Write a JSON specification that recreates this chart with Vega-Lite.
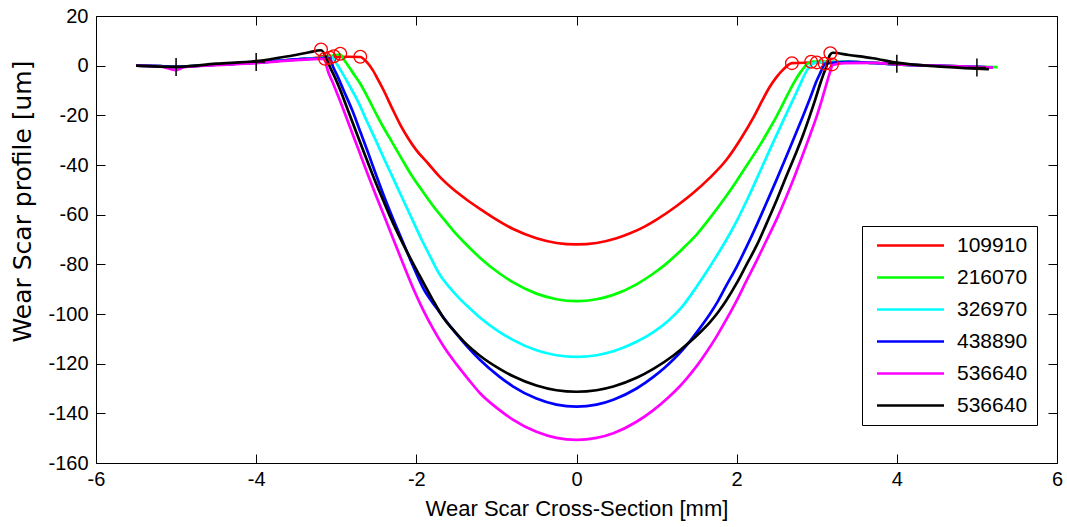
{
"$schema": "https://vega.github.io/schema/vega-lite/v6.json",
"width": 961, "height": 447,
"autosize": {"type": "none"},
"padding": {"left": 96, "top": 16, "right": 10, "bottom": 64},
"background": "white",
"config": {"view": {"stroke": null}, "font": "Liberation Sans",
  "axis": {"domainColor": "black", "domainWidth": 1, "tickColor": "black", "tickWidth": 1, "labelColor": "black", "titleColor": "black", "grid": false, "labelFont": "Liberation Sans", "titleFont": "Liberation Sans", "labelFontSize": 20, "titleFontSize": 22, "titleFontWeight": "normal", "labelFlush": false, "labelOverlap": false}},
"datasets": {
"curves": [
{"run":"109910","x":-5.5,"y":0},{"run":"109910","x":-5.2,"y":-0.2},{"run":"109910","x":-5.0,"y":-0.5},{"run":"109910","x":-4.8,"y":-0.2},{"run":"109910","x":-4.5,"y":0.4},{"run":"109910","x":-4.0,"y":1.2},{"run":"109910","x":-3.7,"y":2.0},{"run":"109910","x":-3.4,"y":2.7},
{"run":"109910","x":-3.2,"y":3.2},{"run":"109910","x":-3.0,"y":3.5},{"run":"109910","x":-2.85,"y":3.6},{"run":"109910","x":-2.7,"y":3.5},{"run":"109910","x":-2.62,"y":1.5},{"run":"109910","x":-2.55,"y":-1.5},{"run":"109910","x":-2.48,"y":-5.5},{"run":"109910","x":-2.41,"y":-9.8},{"run":"109910","x":-2.3,"y":-17.3},{"run":"109910","x":-2.2,"y":-23.8},{"run":"109910","x":-2.1,"y":-29.3},{"run":"109910","x":-2.0,"y":-34},{"run":"109910","x":-1.85,"y":-39.5},{"run":"109910","x":-1.71,"y":-44.7},{"run":"109910","x":-1.55,"y":-49.5},{"run":"109910","x":-1.37,"y":-54},{"run":"109910","x":-1.2,"y":-57.8},{"run":"109910","x":-1.04,"y":-61.2},{"run":"109910","x":-0.79,"y":-65.8},{"run":"109910","x":-0.5,"y":-69.5},{"run":"109910","x":-0.25,"y":-71.4},{"run":"109910","x":0,"y":-72},{"run":"109910","x":0.25,"y":-71.4},{"run":"109910","x":0.5,"y":-69.5},{"run":"109910","x":0.67,"y":-67.5},{"run":"109910","x":0.85,"y":-64.8},{"run":"109910","x":1.0,"y":-62},{"run":"109910","x":1.25,"y":-56.5},{"run":"109910","x":1.46,"y":-51.2},{"run":"109910","x":1.67,"y":-45},{"run":"109910","x":1.87,"y":-38},{"run":"109910","x":2.05,"y":-29.5},{"run":"109910","x":2.21,"y":-20.8},{"run":"109910","x":2.32,"y":-14},{"run":"109910","x":2.41,"y":-8.7},{"run":"109910","x":2.5,"y":-4.5},{"run":"109910","x":2.58,"y":-1.6},{"run":"109910","x":2.69,"y":1.0},{"run":"109910","x":2.9,"y":1.2},{"run":"109910","x":3.1,"y":1.3},
{"run":"109910","x":3.4,"y":1.5},{"run":"109910","x":3.7,"y":1.1},{"run":"109910","x":4.0,"y":0.5},{"run":"109910","x":4.5,"y":0.0},{"run":"109910","x":5.0,"y":-0.5},{"run":"109910","x":5.2,"y":-0.8},

{"run":"216070","x":-5.5,"y":0},{"run":"216070","x":-5.2,"y":-0.2},{"run":"216070","x":-5.0,"y":-0.5},{"run":"216070","x":-4.8,"y":-0.2},{"run":"216070","x":-4.5,"y":0.4},{"run":"216070","x":-4.0,"y":1.2},{"run":"216070","x":-3.7,"y":2.0},{"run":"216070","x":-3.4,"y":2.7},
{"run":"216070","x":-3.15,"y":3.4},{"run":"216070","x":-2.95,"y":4.5},{"run":"216070","x":-2.9,"y":2.3},{"run":"216070","x":-2.8,"y":-2.5},{"run":"216070","x":-2.7,"y":-7.3},{"run":"216070","x":-2.6,"y":-13.2},{"run":"216070","x":-2.5,"y":-19.5},{"run":"216070","x":-2.42,"y":-24.3},{"run":"216070","x":-2.33,"y":-29.3},{"run":"216070","x":-2.2,"y":-36.5},{"run":"216070","x":-2.08,"y":-43.1},{"run":"216070","x":-1.93,"y":-50.2},{"run":"216070","x":-1.79,"y":-56.5},{"run":"216070","x":-1.66,"y":-61.7},{"run":"216070","x":-1.54,"y":-66.4},{"run":"216070","x":-1.41,"y":-70.9},{"run":"216070","x":-1.21,"y":-77.2},{"run":"216070","x":-0.96,"y":-83.7},{"run":"216070","x":-0.79,"y":-87.3},{"run":"216070","x":-0.5,"y":-91.8},{"run":"216070","x":-0.25,"y":-94.05},{"run":"216070","x":0,"y":-94.8},{"run":"216070","x":0.25,"y":-94.05},{"run":"216070","x":0.46,"y":-92.3},{"run":"216070","x":0.75,"y":-88.05},{"run":"216070","x":0.96,"y":-83.7},{"run":"216070","x":1.1,"y":-80.3},{"run":"216070","x":1.25,"y":-76.05},{"run":"216070","x":1.37,"y":-72.3},{"run":"216070","x":1.5,"y":-68},{"run":"216070","x":1.67,"y":-61.2},{"run":"216070","x":1.85,"y":-53.4},{"run":"216070","x":2.0,"y":-46.4},{"run":"216070","x":2.15,"y":-39},{"run":"216070","x":2.29,"y":-32},{"run":"216070","x":2.4,"y":-26},{"run":"216070","x":2.5,"y":-20.3},{"run":"216070","x":2.6,"y":-14},{"run":"216070","x":2.71,"y":-7.1},{"run":"216070","x":2.8,"y":-2.5},{"run":"216070","x":2.87,"y":0.3},{"run":"216070","x":2.93,"y":1.6},{"run":"216070","x":3.1,"y":1.6},{"run":"216070","x":3.25,"y":1.5},
{"run":"216070","x":3.4,"y":1.5},{"run":"216070","x":3.7,"y":1.1},{"run":"216070","x":4.0,"y":0.5},{"run":"216070","x":4.5,"y":0.0},{"run":"216070","x":5.0,"y":-0.5},{"run":"216070","x":5.26,"y":-0.6},

{"run":"326970","x":-5.5,"y":0},{"run":"326970","x":-5.2,"y":-0.2},{"run":"326970","x":-5.0,"y":-0.7},{"run":"326970","x":-4.8,"y":-0.2},{"run":"326970","x":-4.5,"y":0.4},{"run":"326970","x":-4.0,"y":1.2},{"run":"326970","x":-3.7,"y":2.0},{"run":"326970","x":-3.4,"y":2.7},
{"run":"326970","x":-3.2,"y":3.0},{"run":"326970","x":-3.06,"y":3.6},{"run":"326970","x":-3.0,"y":1},{"run":"326970","x":-2.92,"y":-3.2},{"run":"326970","x":-2.83,"y":-8.3},{"run":"326970","x":-2.72,"y":-15},{"run":"326970","x":-2.62,"y":-22.2},{"run":"326970","x":-2.5,"y":-30.5},{"run":"326970","x":-2.41,"y":-37},{"run":"326970","x":-2.3,"y":-44.6},{"run":"326970","x":-2.2,"y":-51.6},{"run":"326970","x":-2.05,"y":-62},{"run":"326970","x":-1.93,"y":-70.3},{"run":"326970","x":-1.82,"y":-77.3},{"run":"326970","x":-1.71,"y":-84},{"run":"326970","x":-1.58,"y":-89.5},{"run":"326970","x":-1.46,"y":-93.8},{"run":"326970","x":-1.33,"y":-97.8},{"run":"326970","x":-1.21,"y":-101.3},{"run":"326970","x":-0.96,"y":-107.3},{"run":"326970","x":-0.79,"y":-110.5},{"run":"326970","x":-0.5,"y":-114.6},{"run":"326970","x":-0.25,"y":-116.6},{"run":"326970","x":0,"y":-117.3},{"run":"326970","x":0.25,"y":-116.6},{"run":"326970","x":0.46,"y":-115},{"run":"326970","x":0.75,"y":-111.2},{"run":"326970","x":0.96,"y":-107.3},{"run":"326970","x":1.15,"y":-102.6},{"run":"326970","x":1.32,"y":-97},{"run":"326970","x":1.5,"y":-89},{"run":"326970","x":1.62,"y":-83.2},{"run":"326970","x":1.75,"y":-76.6},{"run":"326970","x":1.87,"y":-70.2},{"run":"326970","x":2.0,"y":-62.6},{"run":"326970","x":2.16,"y":-52},{"run":"326970","x":2.3,"y":-42},{"run":"326970","x":2.46,"y":-30.6},{"run":"326970","x":2.6,"y":-20.8},{"run":"326970","x":2.71,"y":-13.3},{"run":"326970","x":2.8,"y":-7},{"run":"326970","x":2.87,"y":-2.3},{"run":"326970","x":2.94,"y":0.6},{"run":"326970","x":3.0,"y":1.2},{"run":"326970","x":3.2,"y":1.4},
{"run":"326970","x":3.4,"y":1.5},{"run":"326970","x":3.7,"y":1.1},{"run":"326970","x":4.0,"y":0.5},{"run":"326970","x":4.5,"y":0.0},{"run":"326970","x":5.0,"y":-0.5},{"run":"326970","x":5.2,"y":-0.8},

{"run":"438890","x":-5.5,"y":0},{"run":"438890","x":-5.2,"y":-0.2},{"run":"438890","x":-5.0,"y":-0.5},{"run":"438890","x":-4.8,"y":-0.2},{"run":"438890","x":-4.5,"y":0.4},{"run":"438890","x":-4.0,"y":1.2},{"run":"438890","x":-3.7,"y":2.0},{"run":"438890","x":-3.4,"y":2.7},
{"run":"438890","x":-3.2,"y":2.9},{"run":"438890","x":-3.08,"y":3.0},{"run":"438890","x":-3.04,"y":-0.4},{"run":"438890","x":-2.98,"y":-4.5},{"run":"438890","x":-2.91,"y":-9.8},{"run":"438890","x":-2.8,"y":-18},{"run":"438890","x":-2.7,"y":-26.6},{"run":"438890","x":-2.6,"y":-35.3},{"run":"438890","x":-2.5,"y":-44.2},{"run":"438890","x":-2.38,"y":-54.5},{"run":"438890","x":-2.25,"y":-64.8},{"run":"438890","x":-2.16,"y":-71.6},{"run":"438890","x":-2.04,"y":-80.8},{"run":"438890","x":-1.91,"y":-89.9},{"run":"438890","x":-1.75,"y":-97.5},{"run":"438890","x":-1.62,"y":-103.2},{"run":"438890","x":-1.5,"y":-108},{"run":"438890","x":-1.37,"y":-112.9},{"run":"438890","x":-1.21,"y":-118.3},{"run":"438890","x":-0.96,"y":-125.3},{"run":"438890","x":-0.79,"y":-129.2},{"run":"438890","x":-0.5,"y":-134.05},{"run":"438890","x":-0.25,"y":-136.5},{"run":"438890","x":0,"y":-137.3},{"run":"438890","x":0.25,"y":-136.5},{"run":"438890","x":0.46,"y":-134.5},{"run":"438890","x":0.75,"y":-130},{"run":"438890","x":0.96,"y":-125.3},{"run":"438890","x":1.1,"y":-121.6},{"run":"438890","x":1.21,"y":-118.3},{"run":"438890","x":1.3,"y":-115.3},{"run":"438890","x":1.42,"y":-110.8},{"run":"438890","x":1.55,"y":-105.3},{"run":"438890","x":1.67,"y":-99.8},{"run":"438890","x":1.77,"y":-94.6},{"run":"438890","x":1.87,"y":-88.6},{"run":"438890","x":2.0,"y":-81},{"run":"438890","x":2.12,"y":-73.2},{"run":"438890","x":2.25,"y":-64.2},{"run":"438890","x":2.37,"y":-55.4},{"run":"438890","x":2.5,"y":-45.8},{"run":"438890","x":2.62,"y":-36.6},{"run":"438890","x":2.73,"y":-28},{"run":"438890","x":2.83,"y":-20.2},{"run":"438890","x":2.92,"y":-12.8},{"run":"438890","x":3.0,"y":-6},{"run":"438890","x":3.05,"y":-2.5},{"run":"438890","x":3.08,"y":-0.4},{"run":"438890","x":3.1,"y":0.7},{"run":"438890","x":3.25,"y":1.3},
{"run":"438890","x":3.4,"y":1.5},{"run":"438890","x":3.7,"y":1.1},{"run":"438890","x":4.0,"y":0.5},{"run":"438890","x":4.5,"y":0.0},{"run":"438890","x":5.0,"y":-0.5},{"run":"438890","x":5.2,"y":-0.8},

{"run":"536640","x":-5.5,"y":0},{"run":"536640","x":-5.2,"y":-0.3},{"run":"536640","x":-5.0,"y":-1.8},{"run":"536640","x":-4.9,"y":-0.6},{"run":"536640","x":-4.5,"y":0.2},{"run":"536640","x":-4.0,"y":1.0},{"run":"536640","x":-3.7,"y":1.8},{"run":"536640","x":-3.4,"y":2.4},{"run":"536640","x":-3.2,"y":2.7},{"run":"536640","x":-3.14,"y":2.6},{"run":"536640","x":-3.12,"y":-0.4},{"run":"536640","x":-3.04,"y":-7.1},{"run":"536640","x":-2.93,"y":-16},{"run":"536640","x":-2.83,"y":-24.6},{"run":"536640","x":-2.72,"y":-34},{"run":"536640","x":-2.62,"y":-42.6},{"run":"536640","x":-2.52,"y":-51},{"run":"536640","x":-2.41,"y":-59.8},{"run":"536640","x":-2.25,"y":-72.9},{"run":"536640","x":-2.14,"y":-81.8},{"run":"536640","x":-2.04,"y":-89.6},{"run":"536640","x":-1.92,"y":-98},{"run":"536640","x":-1.79,"y":-106},{"run":"536640","x":-1.65,"y":-113.5},{"run":"536640","x":-1.5,"y":-120.2},{"run":"536640","x":-1.35,"y":-126.3},{"run":"536640","x":-1.21,"y":-131.7},{"run":"536640","x":-0.96,"y":-138.7},{"run":"536640","x":-0.79,"y":-142.6},{"run":"536640","x":-0.5,"y":-147.45},{"run":"536640","x":-0.25,"y":-149.9},{"run":"536640","x":0,"y":-150.7},{"run":"536640","x":0.25,"y":-149.9},{"run":"536640","x":0.46,"y":-148},{"run":"536640","x":0.75,"y":-143.4},{"run":"536640","x":0.96,"y":-138.7},{"run":"536640","x":1.15,"y":-133.5},{"run":"536640","x":1.29,"y":-129.1},{"run":"536640","x":1.37,"y":-126.2},{"run":"536640","x":1.5,"y":-121},{"run":"536640","x":1.62,"y":-115.5},{"run":"536640","x":1.75,"y":-109},{"run":"536640","x":1.87,"y":-102.3},{"run":"536640","x":2.0,"y":-94.6},{"run":"536640","x":2.12,"y":-86.8},{"run":"536640","x":2.25,"y":-78.5},{"run":"536640","x":2.37,"y":-70.5},{"run":"536640","x":2.5,"y":-61.8},{"run":"536640","x":2.62,"y":-52.8},{"run":"536640","x":2.73,"y":-44},{"run":"536640","x":2.83,"y":-35.5},{"run":"536640","x":2.92,"y":-27.6},{"run":"536640","x":3.0,"y":-20.3},{"run":"536640","x":3.06,"y":-14.2},{"run":"536640","x":3.12,"y":-7.5},{"run":"536640","x":3.16,"y":-3.2},{"run":"536640","x":3.2,"y":0.3},{"run":"536640","x":3.35,"y":1.0},
{"run":"536640","x":3.7,"y":1.1},{"run":"536640","x":4.0,"y":0.5},{"run":"536640","x":4.5,"y":0.0},{"run":"536640","x":5.0,"y":-0.5},{"run":"536640","x":5.2,"y":-0.8},

{"run":"536640b","x":-5.5,"y":0},{"run":"536640b","x":-5.0,"y":-0.5},{"run":"536640b","x":-4.5,"y":0.8},{"run":"536640b","x":-4.0,"y":1.8},{"run":"536640b","x":-3.6,"y":3.8},{"run":"536640b","x":-3.35,"y":5.3},{"run":"536640b","x":-3.19,"y":6.2},{"run":"536640b","x":-3.12,"y":3},{"run":"536640b","x":-3.08,"y":-0.4},{"run":"536640b","x":-3.02,"y":-4.5},{"run":"536640b","x":-2.95,"y":-9.8},{"run":"536640b","x":-2.85,"y":-18.3},{"run":"536640b","x":-2.75,"y":-26.8},{"run":"536640b","x":-2.65,"y":-35.3},{"run":"536640b","x":-2.54,"y":-44.4},{"run":"536640b","x":-2.43,"y":-53},{"run":"536640b","x":-2.33,"y":-60.6},{"run":"536640b","x":-2.16,"y":-72.2},{"run":"536640b","x":-1.96,"y":-84.5},{"run":"536640b","x":-1.8,"y":-94},{"run":"536640b","x":-1.66,"y":-101.6},{"run":"536640b","x":-1.5,"y":-107.8},{"run":"536640b","x":-1.37,"y":-112.3},{"run":"536640b","x":-1.21,"y":-116.7},{"run":"536640b","x":-0.96,"y":-122.1},{"run":"536640b","x":-0.79,"y":-125.1},{"run":"536640b","x":-0.5,"y":-128.8},{"run":"536640b","x":-0.25,"y":-130.7},{"run":"536640b","x":0,"y":-131.3},{"run":"536640b","x":0.25,"y":-130.7},{"run":"536640b","x":0.46,"y":-129.2},{"run":"536640b","x":0.75,"y":-125.7},{"run":"536640b","x":0.96,"y":-122.1},{"run":"536640b","x":1.21,"y":-116.7},{"run":"536640b","x":1.3,"y":-114.4},{"run":"536640b","x":1.5,"y":-108.8},{"run":"536640b","x":1.67,"y":-103.2},{"run":"536640b","x":1.77,"y":-99.2},{"run":"536640b","x":1.87,"y":-94.6},{"run":"536640b","x":2.0,"y":-87.6},{"run":"536640b","x":2.12,"y":-80.3},{"run":"536640b","x":2.25,"y":-72.4},{"run":"536640b","x":2.37,"y":-63.8},{"run":"536640b","x":2.5,"y":-54.1},{"run":"536640b","x":2.62,"y":-44.5},{"run":"536640b","x":2.75,"y":-34.5},{"run":"536640b","x":2.83,"y":-27.8},{"run":"536640b","x":2.91,"y":-20.5},{"run":"536640b","x":2.98,"y":-13.8},{"run":"536640b","x":3.04,"y":-7.6},{"run":"536640b","x":3.08,"y":-3.8},{"run":"536640b","x":3.12,"y":-0.4},{"run":"536640b","x":3.16,"y":4.0},{"run":"536640b","x":3.2,"y":5.2},{"run":"536640b","x":3.4,"y":4.3},{"run":"536640b","x":3.7,"y":3},{"run":"536640b","x":4.0,"y":1.2},{"run":"536640b","x":4.5,"y":-0.3},{"run":"536640b","x":5.0,"y":-1.2},{"run":"536640b","x":5.15,"y":-1.4}
],
"edges": [
{"run":"109910","x":-2.7,"y":3.6},{"run":"216070","x":-2.95,"y":4.8},{"run":"326970","x":-3.03,"y":3.8},{"run":"438890","x":-3.08,"y":3.2},{"run":"536640","x":-3.14,"y":2.8},{"run":"536640b","x":-3.19,"y":6.5},
{"run":"109910","x":2.69,"y":1.0},{"run":"216070","x":2.93,"y":1.6},{"run":"326970","x":3.0,"y":1.3},{"run":"438890","x":3.1,"y":0.8},{"run":"536640","x":3.19,"y":0.5},{"run":"536640b","x":3.17,"y":5.0}
],
"ticksMarks": [
{"x":-5,"y":-0.5},{"x":-4,"y":1.5},{"x":4,"y":0.8},{"x":5,"y":-0.7}
]
},
"layer": [
{
 "data": {"name": "curves"},
 "mark": {"type": "line", "strokeWidth": 2.7, "interpolate": "monotone"},
 "encoding": {
  "x": {"field": "x", "type": "quantitative", "scale": {"domain": [-6, 6], "nice": false, "zero": false},
        "axis": {"orient": "bottom", "values": [-6,-4,-2,0,2,4,6], "title": "Wear Scar Cross-Section [mm]", "tickSize": -9, "labelPadding": 15, "titlePadding": 9, "labelExpr": "'' + datum.value"}},
  "y": {"field": "y", "type": "quantitative", "scale": {"domain": [-160, 20], "nice": false, "zero": false},
        "axis": {"orient": "left", "values": [-160,-140,-120,-100,-80,-60,-40,-20,0,20], "title": "Wear Scar profile [um]", "tickSize": -9, "labelPadding": 17, "titleFont": "DejaVu Sans", "titleFontSize": 25, "titleX": -61, "titleY": 185, "titleBaseline": "bottom", "titleAngle": -90, "titleAlign": "center", "labelExpr": "'' + datum.value"}},
  "color": {"field": "run", "type": "nominal",
   "scale": {"domain": ["109910","216070","326970","438890","536640","536640b"], "range": ["#ff0000","#00ff00","#00ffff","#0000ff","#ff00ff","#000000"]},
   "legend": {"title": null, "orient": "none", "legendX": 766, "legendY": 210, "direction": "vertical",
     "symbolType": "M-6.7,0H6.7", "symbolSize": 100, "symbolStrokeWidth": 2.7, "symbolOffset": 29, "labelOffset": 36,
     "labelFontSize": 21, "labelFont": "Liberation Sans", "labelColor": "black", "rowPadding": 10, "padding": 9,
     "strokeColor": "black", "fillColor": "white", "labelExpr": "replace(datum.label, 'b', '')"}}
 }
},
{
 "data": {"name": "ticksMarks"},
 "mark": {"type": "point", "shape": "M-1,0H1M0,-1V1", "filled": false, "color": "black", "strokeWidth": 1.5, "size": 324, "opacity": 1},
 "encoding": {
  "x": {"field": "x", "type": "quantitative", "axis": {"orient": "top", "values": [-6,-4,-2,0,2,4,6], "labels": false, "title": null, "tickSize": -9}},
  "y": {"field": "y", "type": "quantitative", "axis": {"orient": "right", "values": [-160,-140,-120,-100,-80,-60,-40,-20,0,20], "labels": false, "title": null, "tickSize": -9}}
 }
},
{
 "data": {"name": "edges"},
 "mark": {"type": "point", "shape": "circle", "filled": false, "color": "#ff0000", "strokeWidth": 1.3, "size": 160, "opacity": 1},
 "encoding": {
  "x": {"field": "x", "type": "quantitative", "axis": null},
  "y": {"field": "y", "type": "quantitative", "axis": null}
 }
}
],
"resolve": {"axis": {"x": "independent", "y": "independent"}}
}
